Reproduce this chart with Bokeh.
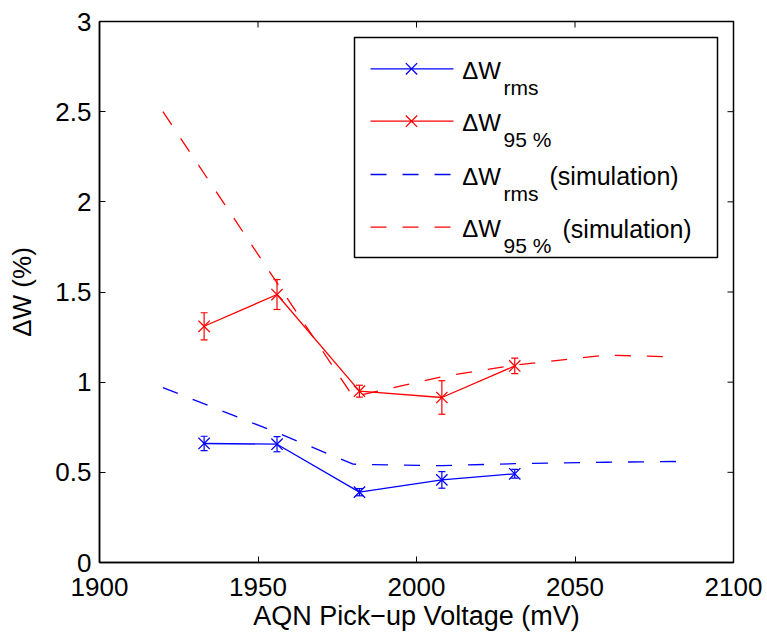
from bokeh.plotting import figure
from bokeh.models import (ColumnDataSource, Whisker, TeeHead, Label, BoxAnnotation,
                          FixedTicker, Range1d)
from bokeh.embed import file_html
from bokeh.resources import INLINE

# ---------------- data ----------------
x_meas = [1933, 1956, 1982, 2008, 2031]
rms = [0.660, 0.656, 0.390, 0.458, 0.492]
rms_err = [0.040, 0.042, 0.020, 0.046, 0.024]
p95 = [1.310, 1.486, 0.950, 0.915, 1.090]
p95_err = [0.075, 0.083, 0.033, 0.093, 0.043]

x_sim = [1920, 1956, 1980, 2008, 2031, 2060, 2082]
rms_sim = [0.970, 0.720, 0.545, 0.537, 0.548, 0.556, 0.560]
p95_sim = [2.500, 1.550, 0.920, 1.030, 1.095, 1.150, 1.140]

x_ticks = [1900, 1950, 2000, 2050, 2100]
y_ticks = [0, 0.5, 1, 1.5, 2, 2.5, 3]
y_tick_labels = ["0", "0.5", "1", "1.5", "2", "2.5", "3"]

x_title = "AQN Pick\u2212up Voltage (mV)"
y_title = "\u0394W (%)"

legend_main = ["\u0394W", "\u0394W", "\u0394W", "\u0394W"]
legend_sub = ["rms", "95 %", "rms", "95 %"]
legend_tail = ["", "", "(simulation)", "(simulation)"]

BLUE = "#0000ff"
RED = "#ff0000"
FONT = "Liberation Sans"

X0, X1, Y0, Y1 = 1900, 2100, 0, 3
W, H = 767, 633
FL, FR, FT, FB = 99, 733, 21, 562
TICK_PX = 6

p = figure(width=W, height=H, output_backend="svg", toolbar_location=None,
           x_range=Range1d(X0, X1), y_range=Range1d(Y0, Y1),
           min_border_left=FL, min_border_right=W - FR,
           min_border_top=FT, min_border_bottom=H - FB,
           x_axis_label=x_title, y_axis_label=y_title)
p.grid.visible = False
p.outline_line_color = "black"
p.outline_line_width = 1.5
p.background_fill_color = "white"
p.border_fill_color = "white"

p.xaxis.ticker = FixedTicker(ticks=x_ticks)
p.yaxis.ticker = FixedTicker(ticks=y_ticks)
p.yaxis.major_label_overrides = {t: s for t, s in zip(y_ticks, y_tick_labels)}
for ax in p.xaxis + p.yaxis:
    ax.axis_line_color = "black"
    ax.axis_line_width = 1.5
    ax.major_tick_in = TICK_PX
    ax.major_tick_out = 0
    ax.major_tick_line_width = 1
    ax.minor_tick_line_color = None
    ax.major_label_text_font = FONT
    ax.major_label_text_color = "black"
    ax.axis_label_text_font = FONT
    ax.axis_label_text_font_style = "normal"
    ax.axis_label_text_color = "black"
p.xaxis.major_label_text_font_size = "26px"
p.yaxis.major_label_text_font_size = "26px"
p.xaxis.axis_label_text_font_size = "27px"
p.yaxis.axis_label_text_font_size = "26px"
p.xaxis.major_label_standoff = 15
p.yaxis.major_label_standoff = 8
p.xaxis.axis_label_standoff = 2
p.yaxis.axis_label_standoff = 15

def px_x(px):
    return X0 + (px - FL) * (X1 - X0) / (FR - FL)

def px_y(py):
    return Y1 - (py - FT) * (Y1 - Y0) / (FB - FT)

# inward ticks on the top and right edges of the box
dx = TICK_PX * (X1 - X0) / (FR - FL)
dy = TICK_PX * (Y1 - Y0) / (FB - FT)
p.segment(x0=x_ticks, y0=[Y1] * len(x_ticks), x1=x_ticks, y1=[Y1 - dy] * len(x_ticks),
          line_color="black", line_width=1)
p.segment(x0=[X1] * len(y_ticks), y0=y_ticks, x1=[X1 - dx] * len(y_ticks), y1=y_ticks,
          line_color="black", line_width=1)

# ---------------- legend box (drawn under the glyphs) ----------------
box = BoxAnnotation(left=px_x(354), right=px_x(717), top=px_y(37), bottom=px_y(257),
                    fill_color="white", fill_alpha=1.0, line_color="black",
                    line_alpha=1.0, line_width=1.5, level="underlay")
p.add_layout(box)

# ---------------- data series ----------------
src_rms = ColumnDataSource(dict(x=x_meas, y=rms,
                                lo=[v - e for v, e in zip(rms, rms_err)],
                                hi=[v + e for v, e in zip(rms, rms_err)]))
src_p95 = ColumnDataSource(dict(x=x_meas, y=p95,
                                lo=[v - e for v, e in zip(p95, p95_err)],
                                hi=[v + e for v, e in zip(p95, p95_err)]))

p.line(x_sim, rms_sim, line_color=BLUE, line_width=1.3, line_dash="16 16")
p.line(x_sim, p95_sim, line_color=RED, line_width=1.3, line_dash="16 16")

for src, col in ((src_rms, BLUE), (src_p95, RED)):
    p.line("x", "y", source=src, line_color=col, line_width=1.3)
    p.scatter("x", "y", source=src, marker="x", size=16, line_color=col, line_width=1.3)
    wh = Whisker(source=src, base="x", lower="lo", upper="hi", dimension="height",
                 line_color=col, line_width=1.2,
                 lower_head=TeeHead(size=7, line_color=col, line_width=1.2),
                 upper_head=TeeHead(size=7, line_color=col, line_width=1.2))
    p.add_layout(wh)

# ---------------- legend entries ----------------
rows_py = [68.3, 120.7, 174.0, 226.7]
row_colors = [BLUE, RED, BLUE, RED]
row_dash = ["solid", "solid", "16 16", "16 16"]
row_marker = [True, True, False, False]
tail_px = [0, 0, 549, 562]

for i, L in enumerate(rows_py):
    yy = px_y(L)
    p.line([px_x(370), px_x(453)], [yy, yy], line_color=row_colors[i],
           line_width=1.3, line_dash=row_dash[i])
    if row_marker[i]:
        p.scatter([px_x(411)], [yy], marker="x", size=16,
                  line_color=row_colors[i], line_width=1.3)
    p.add_layout(Label(x=px_x(461.7), y=px_y(L + 1.5), text=legend_main[i],
                       text_font=FONT, text_font_size="24px", text_color="black",
                       text_baseline="alphabetic", text_align="left"))
    p.add_layout(Label(x=px_x(503), y=px_y(L + 18.5), text=legend_sub[i],
                       text_font=FONT, text_font_size="21px", text_color="black",
                       text_baseline="alphabetic", text_align="left"))
    if legend_tail[i]:
        p.add_layout(Label(x=px_x(tail_px[i]), y=px_y(L + 1.5), text=legend_tail[i],
                           text_font=FONT, text_font_size="25px", text_color="black",
                           text_baseline="alphabetic", text_align="left"))

open("out.html", "w").write(file_html(p, INLINE))
